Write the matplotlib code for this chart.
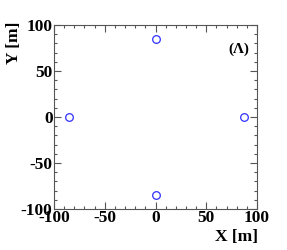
import numpy as np
import matplotlib
matplotlib.use("Agg")
import matplotlib.pyplot as plt
from matplotlib.ticker import MultipleLocator

# detector positions
xs = [-85, 87, 0, 0]
ys = [0, 0, 85, -85]
label = "(Λ)"

plt.rcParams['font.family'] = ['Liberation Serif', 'DejaVu Serif']
plt.rcParams['font.weight'] = 'bold'
plt.rcParams['axes.unicode_minus'] = False

fig = plt.figure(figsize=(2.87, 2.5), dpi=100)
ax = fig.add_axes([54 / 287, 41 / 250, 203 / 287, 184 / 250])

ax.plot(xs, ys, 'o', mfc='none', mec='#3030ff', ms=5.5, mew=0.9)

ax.set_xlim(-100, 100)
ax.set_ylim(-100, 100)
ax.xaxis.set_major_locator(MultipleLocator(50))
ax.yaxis.set_major_locator(MultipleLocator(50))
ax.xaxis.set_minor_locator(MultipleLocator(10))
ax.yaxis.set_minor_locator(MultipleLocator(10))
ax.tick_params(which='both', direction='in', top=True, right=True,
               color='#555555', width=0.8)
ax.tick_params(which='major', length=5, labelsize=12.5, pad=1)
ax.tick_params(which='minor', length=2.5)
for s in ax.spines.values():
    s.set_color('#555555')
    s.set_linewidth(0.8)
for t in ax.get_xticklabels() + ax.get_yticklabels():
    t.set_fontweight('bold')

ax.text(0.96, 0.87, label, transform=ax.transAxes, ha='right', va='center',
        fontsize=11, fontweight='bold')

fig.text(258 / 287, 1 - 237 / 250, "X [m]", ha='right', va='center',
         fontsize=12.5, fontweight='bold')
fig.text(14 / 287, 1 - 22 / 250, "Y [m]", ha='center', va='top',
         rotation=90, fontsize=12.5, fontweight='bold')

fig.savefig("out.png", dpi=100)
